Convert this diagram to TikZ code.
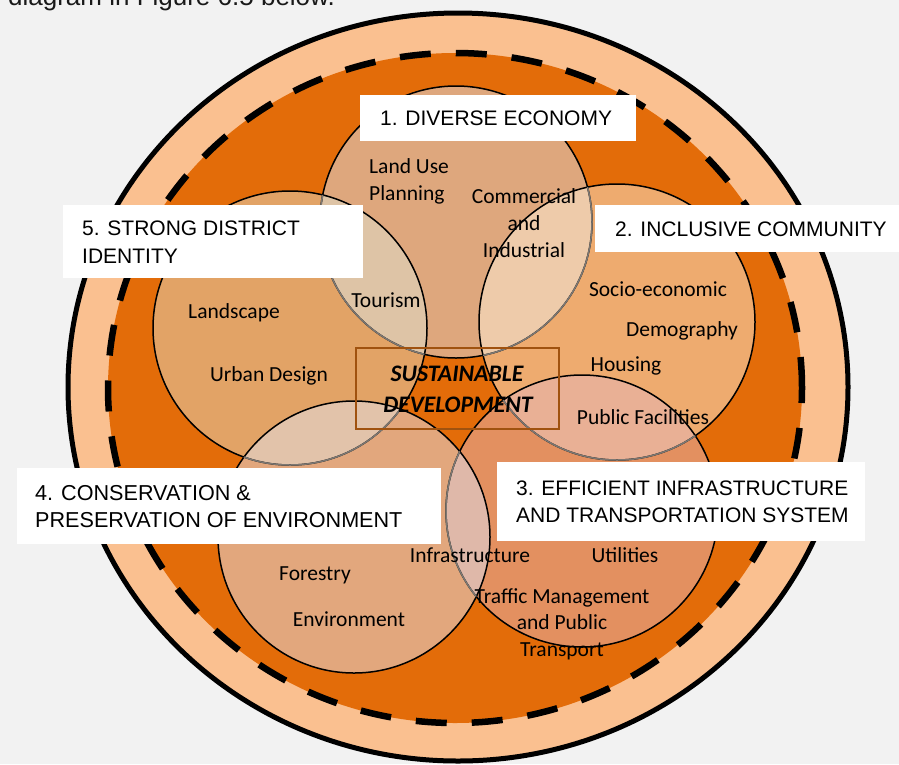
\documentclass[tikz,border=0pt]{standalone}
\usepackage{fontspec}
\setmainfont{Liberation Sans}
\newfontfamily\calibri{Carlito}
\definecolor{bgc}{HTML}{F2F2F2}
\definecolor{peach}{HTML}{FAC090}
\definecolor{darkor}{HTML}{E36C09}
\definecolor{cA}{HTML}{DEA77D}
\definecolor{cB}{HTML}{EEAB6F}
\definecolor{cC}{HTML}{E39060}
\definecolor{cD}{HTML}{E2A77D}
\definecolor{cE}{HTML}{E2A366}
\definecolor{oAE}{HTML}{DEC4A6}
\definecolor{oAB}{HTML}{EECBAA}
\definecolor{oBC}{HTML}{E9B095}
\definecolor{oCD}{HTML}{DFB8A9}
\definecolor{oDE}{HTML}{E2C3AA}
\definecolor{grayline}{HTML}{7D7873}
\definecolor{sdbrown}{HTML}{A0520F}
\tikzset{
  circline/.style={draw=black, line width=1.5pt},
  hidline/.style={draw=grayline, line width=1.5pt},
  lblbox/.style={fill=white, draw=none},
  lbltext/.style={font=\fontsize{21pt}{25pt}\selectfont, text=black, inner sep=0pt, anchor=base west},
  intext/.style={font=\calibri\fontsize{21.5pt}{27pt}\selectfont, text=black, inner sep=0pt, anchor=base},
  sdtext/.style={font=\calibri\bfseries\itshape\fontsize{23.7pt}{31pt}\selectfont, text=black, inner sep=0pt, anchor=base},
}
\begin{document}
\begin{tikzpicture}[x=1pt,y=-1pt]
\useasboundingbox (0,0) rectangle (899,764);
\fill[bgc] (0,0) rectangle (899,764);
\clip (0,0) rectangle (899,764);
\node[font=\fontsize{26pt}{30pt}\selectfont, text=black!90, inner sep=0pt, anchor=base west] (toptext) at (8,5) {diagram in Figure 6.5 below.};
% outer rings
\filldraw[fill=peach, draw=black, line width=5pt] (458,387) ellipse [x radius=390pt, y radius=374pt];
\fill[darkor] (455,388) ellipse [x radius=347pt, y radius=335pt];
\draw[black, line width=6.5pt, dash pattern=on 31pt off 25pt] (455,388) ellipse [x radius=347pt, y radius=335pt];
% circle centres
\coordinate (c1) at (456,222);
\coordinate (c2) at (617,322);
\coordinate (c3) at (582,511);
\coordinate (c4) at (354,537);
\coordinate (c5) at (290,328);
% fills
\fill[cA] (c1) circle[radius=136pt];
\fill[cB] (c2) circle[radius=138pt];
\fill[cC] (c3) circle[radius=136pt];
\fill[cE] (c5) circle[radius=137pt];
\fill[cD] (c4) circle[radius=136pt];
% overlaps
\begin{scope}\clip (c1) circle[radius=136pt]; \fill[oAE] (c5) circle[radius=137pt];\end{scope}
\begin{scope}\clip (c1) circle[radius=136pt]; \fill[oAB] (c2) circle[radius=138pt];\end{scope}
\begin{scope}\clip (c2) circle[radius=138pt]; \fill[oBC] (c3) circle[radius=136pt];\end{scope}
\begin{scope}\clip (c3) circle[radius=136pt]; \fill[oCD] (c4) circle[radius=136pt];\end{scope}
\begin{scope}\clip (c5) circle[radius=137pt]; \fill[oDE] (c4) circle[radius=136pt];\end{scope}
% outlines
\draw[circline] (c1) circle[radius=136pt];
\draw[circline] (c2) circle[radius=138pt];
\draw[circline] (c3) circle[radius=136pt];
\draw[circline] (c4) circle[radius=136pt];
\draw[circline] (c5) circle[radius=137pt];
% hidden outline parts
\begin{scope}\clip (c5) circle[radius=137pt]; \draw[hidline] (c1) circle[radius=136pt];\end{scope}
\begin{scope}\clip (c2) circle[radius=138pt]; \draw[hidline] (c1) circle[radius=136pt];\end{scope}
\begin{scope}\clip (c3) circle[radius=136pt]; \draw[hidline] (c2) circle[radius=138pt];\end{scope}
\begin{scope}\clip (c4) circle[radius=136pt]; \draw[hidline] (c3) circle[radius=136pt];\end{scope}
\begin{scope}\clip (c4) circle[radius=136pt]; \draw[hidline] (c5) circle[radius=137pt];\end{scope}
% centre box
\node[draw=sdbrown, line width=1.5pt, minimum width=203pt, minimum height=81pt, inner sep=0pt] (sdbox) at (457.5,388.5) {};
\node[sdtext] (sd1) at (457,381) {SUSTAINABLE};
\node[sdtext] (sd2) at (458,412) {DEVELOPMENT};
% inner texts
\node[intext, anchor=base west] (lu1) at (369,173) {Land Use};
\node[intext, anchor=base west] (lu2) at (369,200) {Planning};
\node[intext] (ci1) at (524,203) {Commercial};
\node[intext] (ci2) at (524,230) {and};
\node[intext] (ci3) at (524,257) {Industrial};
\node[intext] (tour) at (386,307) {Tourism};
\node[intext] (land) at (234,318) {Landscape};
\node[intext] (urb) at (269,381) {Urban Design};
\node[intext] (soc) at (658,296) {Socio-economic};
\node[intext] (dem) at (682,336) {Demography};
\node[intext] (hou) at (626,371) {Housing};
\node[intext] (pub) at (643,424) {Public Facilities};
\node[intext] (inf) at (470,562) {Infrastructure};
\node[intext] (uti) at (625,562) {Utilities};
\node[intext] (tr1) at (562,603) {Traffic Management};
\node[intext] (tr2) at (562,629) {and Public};
\node[intext] (tr3) at (562,656) {Transport};
\node[intext] (for) at (315,580) {Forestry};
\node[intext] (env) at (349,626) {Environment};
% label boxes
\fill[lblbox] (360,95) rectangle (636,141);
\node[lbltext] (l1) at (380,125) {1. DIVERSE ECONOMY};
\fill[lblbox] (595,205) rectangle (899,252);
\node[lbltext] (l2) at (615,236) {2. INCLUSIVE COMMUNITY};
\fill[lblbox] (63,205) rectangle (363,278);
\node[lbltext] (l5a) at (82,235) {5. STRONG DISTRICT};
\node[lbltext] (l5b) at (82,263) {IDENTITY};
\fill[lblbox] (17,468) rectangle (441,544);
\node[lbltext, font=\fontsize{21.6pt}{25pt}\selectfont] (l4a) at (35,500) {4. CONSERVATION \&};
\node[lbltext, font=\fontsize{21.6pt}{25pt}\selectfont] (l4b) at (35,527) {PRESERVATION OF ENVIRONMENT};
\fill[lblbox] (497,462) rectangle (865,541);
\node[lbltext] (l3a) at (516,495) {3. EFFICIENT INFRASTRUCTURE};
\node[lbltext] (l3b) at (516,522) {AND TRANSPORTATION SYSTEM};
\end{tikzpicture}
\end{document}
